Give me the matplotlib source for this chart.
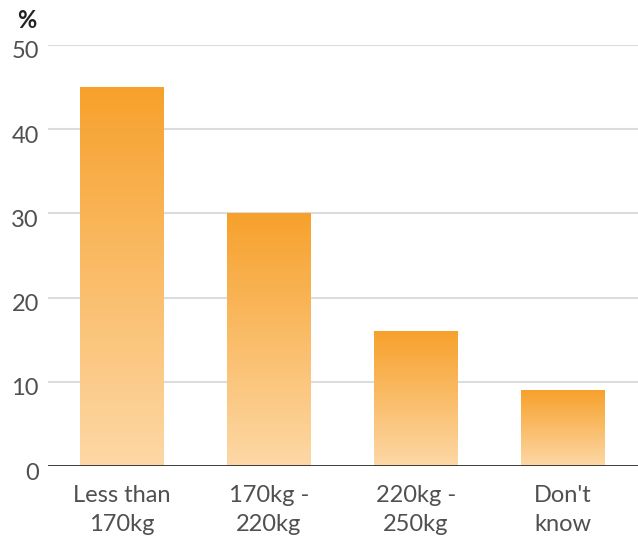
import numpy as np
import matplotlib
matplotlib.use("Agg")
import matplotlib.pyplot as plt
from matplotlib.colors import LinearSegmentedColormap
import matplotlib.transforms as mtransforms

plt.rcParams['font.family'] = ['Lato', 'DejaVu Sans']

categories = ["Less than\n170kg", "170kg -\n220kg", "220kg -\n250kg", "Don't\nknow"]
values = [45, 30, 16, 9]
yticks = [0, 10, 20, 30, 40, 50]

top_color = "#f7a12c"
bottom_color = "#fdd8a6"
text_color = "#505050"
grid_color = "#dcdcdc"

fig = plt.figure(figsize=(6.38, 5.38), dpi=100)
ax = fig.add_axes([48 / 638, 72 / 538, 590 / 638, 421 / 538])

x = np.arange(len(categories))
bar_width = 0.571

# gradient fill: each bar fades from deep orange at its top to pale peach at the base
cmap = LinearSegmentedColormap.from_list("fade", [bottom_color, top_color])
grad = np.linspace(0, 1, 256).reshape(-1, 1)
bars = ax.bar(x, values, width=bar_width, color="none", zorder=3)
for bar, v in zip(bars, values):
    x0 = bar.get_x()
    ax.imshow(grad, cmap=cmap, origin="lower", aspect="auto",
              extent=[x0, x0 + bar.get_width(), 0, v], zorder=3,
              interpolation="bicubic")
ax.set_xlim(-0.503, 3.51)
ax.set_ylim(0, 50)

for t in yticks[1:]:
    ax.axhline(t, color=grid_color, linewidth=1.5, zorder=1)
ax.axhline(0, color="#2b2b2b", linewidth=2, zorder=4)

for s in ax.spines.values():
    s.set_visible(False)
ax.set_xticks([])
ax.set_yticks([])

# y tick labels, right aligned left of the plot and sitting slightly below each grid line
ytrans = mtransforms.blended_transform_factory(ax.transAxes, ax.transData)
offset = mtransforms.ScaledTranslation(-9 / 100, -7 / 100, fig.dpi_scale_trans)
for t in yticks:
    ax.text(0, t, str(t), transform=ytrans + offset, ha="right", va="center",
            fontsize=17, color=text_color)

# category labels beneath the bars
xtrans = mtransforms.blended_transform_factory(ax.transData, ax.transAxes)
xoff = mtransforms.ScaledTranslation(0, -19 / 100, fig.dpi_scale_trans)
for xi, lab in zip(x, categories):
    ax.text(xi, 0, lab, transform=xtrans + xoff, ha="center", va="top",
            fontsize=17, color=text_color, linespacing=1.45)

fig.text(17 / 638, 1 - 20 / 538, "%", fontsize=17, fontweight="bold",
         color="#222222", ha="left", va="center")

fig.savefig("out.png", dpi=100)
